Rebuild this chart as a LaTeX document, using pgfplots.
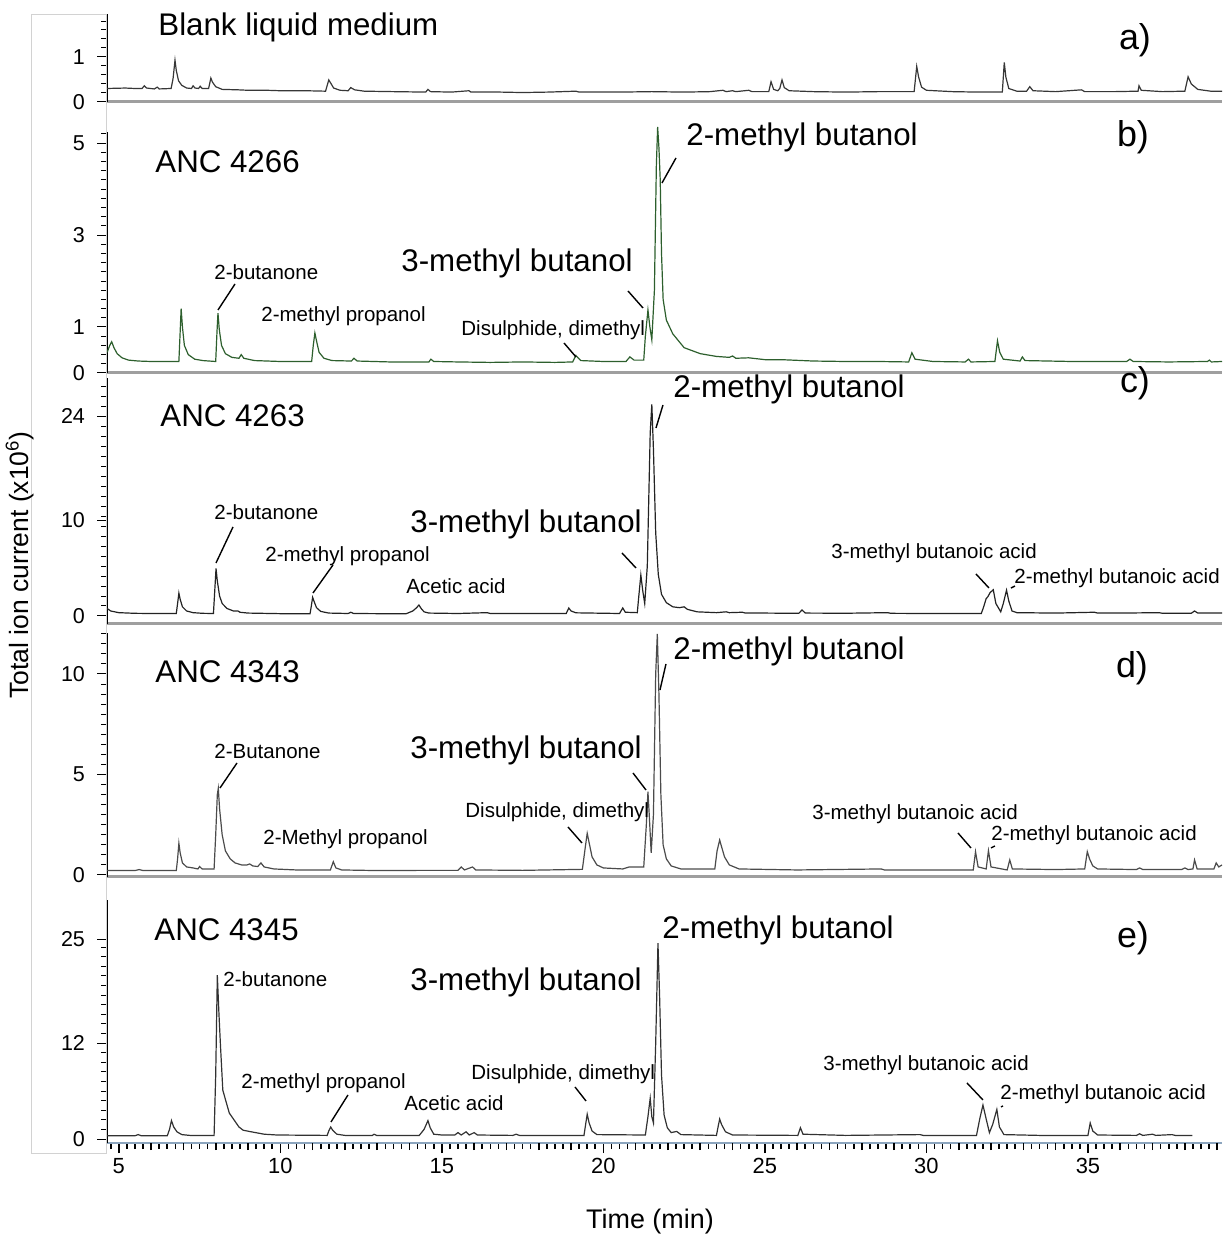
\documentclass[border=0pt]{standalone}
\usepackage{pgfplots}
\pgfplotsset{compat=1.18}
\usepackage{fontspec}
\setmainfont{Liberation Sans}
\definecolor{ca}{RGB}{55,55,55}
\definecolor{cb}{RGB}{45,95,45}
\definecolor{cc}{RGB}{35,35,35}
\definecolor{cd}{RGB}{75,75,75}
\definecolor{ce}{RGB}{50,50,50}
\definecolor{xblue}{RGB}{140,165,190}
\pgfplotsset{
  chrom/.style={
    scale only axis, width=557.5bp, anchor=south west,
    xmin=4.635, xmax=39.15, clip=false,
    axis x line*=bottom, axis y line*=left,
    x axis line style={gray!75, line width=1.5bp},
    y axis line style={black, line width=0.6bp},
    xtick=\empty,
    tick align=outside, major tick length=5bp, minor tick length=3bp,
    tick style={black, line width=0.5bp},
    /pgf/number format/assume math mode=true,
    ticklabel style={font=\fontsize{10.8}{13}\selectfont},
    yticklabel style={xshift=-2.5bp},
  },
}
\newcommand{\fbig}{\fontsize{15.7}{18}\selectfont}
\newcommand{\fsm}{\fontsize{10.3}{12}\selectfont}
\newcommand{\flet}{\fontsize{18}{20}\selectfont}
\begin{document}
\begin{tikzpicture}
\path[use as bounding box] (0bp,0bp) rectangle (611.5bp,617bp);
% a
\begin{axis}[chrom, at={(53.5bp,566bp)}, height=44bp, ymin=0, ymax=1.956,
  ytick={0,1}, minor ytick={0.2,0.4,...,1.8}]
\addplot[ca, line width=0.6bp, mark=none] coordinates {
(4.64,0.30) (5.2,0.31) (5.5,0.30) (5.72,0.30) (5.79,0.36) (5.86,0.31) (6.1,0.29) (6.19,0.33) (6.25,0.29)
(6.62,0.30) (6.68,0.52) (6.74,0.93) (6.78,0.70) (6.85,0.47) (6.95,0.37) (7.1,0.31) (7.25,0.30)
(7.30,0.36) (7.36,0.31) (7.47,0.30) (7.52,0.35) (7.58,0.30) (7.78,0.30) (7.85,0.53) (7.9,0.44)
(8.0,0.34) (8.2,0.28) (8.7,0.27) (9.0,0.26) (9.6,0.26) (10.0,0.25) (10.8,0.25) (11.4,0.24) (11.5,0.49) (11.56,0.42)
(11.65,0.31) (11.85,0.26) (12.1,0.25) (12.18,0.32) (12.3,0.27) (12.6,0.24) (13.5,0.23) (14.5,0.22)
(14.57,0.28) (14.65,0.23) (15.3,0.22) (15.84,0.25) (15.9,0.22) (16.8,0.22) (17.5,0.21) (18.3,0.22) (19.15,0.24) (19.25,0.22)
(20.5,0.22) (21.5,0.23) (22.5,0.22) (23.3,0.23) (23.7,0.26) (23.8,0.23) (24.0,0.25) (24.1,0.23) (24.5,0.26) (24.6,0.23)
(25.12,0.23) (25.19,0.45) (25.27,0.28) (25.4,0.25) (25.46,0.3) (25.53,0.49) (25.6,0.32) (25.75,0.25)
(26.5,0.23) (27.5,0.22) (28.5,0.23) (29.62,0.23) (29.7,0.79) (29.76,0.55) (29.85,0.33) (30.0,0.26)
(30.8,0.23) (31.6,0.22) (32.35,0.22) (32.41,0.88) (32.46,0.55) (32.55,0.30) (32.8,0.24) (33.1,0.24)
(33.2,0.34) (33.3,0.25) (34.0,0.23) (34.8,0.27) (34.9,0.23) (35.8,0.23) (36.55,0.24) (36.58,0.36) (36.65,0.26)
(37.3,0.23) (38.0,0.24) (38.1,0.56) (38.2,0.40) (38.4,0.28) (38.8,0.24) (39.15,0.24)
};
\end{axis}
% b
\begin{axis}[chrom, at={(53.5bp,430.5bp)}, height=120.5bp, ymin=0, ymax=5.24,
  ytick={0,1,3,5}, minor ytick={0.2,0.4,...,5.2}]
\addplot[cb, line width=0.6bp, mark=none] coordinates {
(4.64,0.45) (4.72,0.60) (4.78,0.68) (4.85,0.55) (4.95,0.42) (5.1,0.33) (5.3,0.28) (5.6,0.26)
(6.0,0.25) (6.5,0.25) (6.86,0.25) (6.9,0.9) (6.93,1.40) (6.97,1.0) (7.03,0.6) (7.15,0.40) (7.35,0.30)
(7.6,0.27) (8.0,0.25) (8.04,0.9) (8.07,1.30) (8.11,0.95) (8.18,0.6) (8.3,0.42) (8.5,0.34)
(8.72,0.32) (8.79,0.40) (8.87,0.32) (9.2,0.27) (10.0,0.25) (10.97,0.25) (11.02,0.6) (11.07,0.87)
(11.12,0.7) (11.2,0.45) (11.35,0.32) (11.6,0.27) (12.2,0.26) (12.28,0.32) (12.38,0.26) (13.4,0.24)
(14.6,0.24) (14.66,0.30) (14.75,0.25) (15.5,0.24) (16.5,0.23) (17.5,0.24) (18.5,0.23) (19.05,0.24) (19.15,0.38)
(19.3,0.27) (20.0,0.25) (20.7,0.25) (20.82,0.35) (20.95,0.28) (21.25,0.28) (21.3,0.8) (21.38,1.37)
(21.44,1.0) (21.5,0.72) (21.58,1.8) (21.64,4.5) (21.68,5.35) (21.72,4.9) (21.76,4.2) (21.8,2.6)
(21.85,1.6) (21.95,1.15) (22.15,0.85) (22.5,0.55) (23.0,0.42) (23.5,0.36) (23.9,0.34) (24.0,0.37)
(24.1,0.32) (24.5,0.33) (25.0,0.29) (25.5,0.29) (26.5,0.26) (27.5,0.25) (28.5,0.25) (29.45,0.24)
(29.55,0.44) (29.65,0.30) (30.2,0.25) (31.2,0.24) (31.3,0.30) (31.38,0.24) (32.12,0.25) (32.2,0.70) (32.27,0.45)
(32.38,0.30) (32.9,0.26) (32.97,0.35) (33.05,0.27) (34.5,0.25) (36.2,0.25) (36.3,0.30) (36.4,0.25)
(37.5,0.24) (38.7,0.25) (38.76,0.28) (38.82,0.24) (39.15,0.25)
};
\end{axis}
% c
\begin{axis}[chrom, at={(53.5bp,305bp)}, height=123bp, ymin=-0.96, ymax=28.57,
  ytick={0,11.52,24}, yticklabels={0,10,24}, minor ytick={1.2,2.4,...,27.6}]
\addplot[cc, line width=0.6bp, mark=none] coordinates {
(4.64,0.9) (4.75,0.6) (5.0,0.4) (5.5,0.32) (6.0,0.3) (6.78,0.3) (6.82,1.5) (6.86,2.75) (6.9,2.0)
(6.97,1.1) (7.1,0.6) (7.3,0.4) (7.6,0.32) (7.93,0.3) (7.97,3.0) (8.01,5.7) (8.05,4.2) (8.12,2.4)
(8.2,1.5) (8.35,0.9) (8.55,0.6) (8.69,0.6) (8.75,0.45) (9.0,0.35) (10.0,0.28) (10.92,0.28) (10.96,1.2)
(11.0,2.24) (11.05,1.7) (11.12,1.0) (11.25,0.55) (11.5,0.35) (12.1,0.3) (12.18,0.45) (12.27,0.3)
(13.0,0.28) (13.9,0.28) (14.1,0.6) (14.22,1.0) (14.29,1.32) (14.36,0.9) (14.45,0.5) (14.6,0.35)
(15.5,0.3) (16.4,0.4) (16.5,0.3) (17.5,0.3) (18.85,0.3) (18.93,0.96) (19.0,0.6) (19.15,0.38) (20.5,0.3) (20.6,0.96)
(20.68,0.45) (21.05,0.4) (21.1,2.5) (21.16,4.92) (21.22,3.0) (21.28,1.5) (21.36,6) (21.45,22)
(21.5,25.4) (21.55,20) (21.62,10) (21.7,5) (21.8,2.6) (21.95,1.6) (22.15,1.1) (22.35,1.0) (22.5,1.1)
(22.6,0.8) (22.9,0.5) (23.5,0.4) (23.8,0.5) (23.9,0.4) (24.3,0.45) (24.4,0.35) (25.0,0.35) (26.05,0.32)
(26.15,0.72) (26.25,0.35) (27.5,0.33) (28.8,0.4) (28.9,0.32) (30.0,0.3) (31.7,0.3) (31.78,1.2) (31.85,2.1) (31.9,2.3)
(31.97,2.8) (32.07,3.15) (32.15,1.5) (32.3,0.5) (32.38,1.5) (32.48,3.1) (32.55,1.8) (32.65,0.6)
(32.8,0.4) (34.0,0.35) (35.2,0.45) (35.3,0.35) (36.0,0.35) (37.2,0.4) (37.3,0.33) (38.2,0.33) (38.3,0.6) (38.4,0.35) (39.15,0.35)
};
\end{axis}
% d
\begin{axis}[chrom, at={(53.5bp,178.5bp)}, height=122bp, ymin=-0.1, ymax=12.04,
  ytick={0,5,10}, minor ytick={0.5,1,...,12}]
\addplot[cd, line width=0.6bp, mark=none] coordinates {
(4.64,0.22) (5.5,0.22) (5.63,0.27) (5.75,0.22) (6.78,0.22) (6.82,0.8) (6.86,1.58) (6.9,1.1)
(6.97,0.6) (7.1,0.4) (7.3,0.35) (7.45,0.3) (7.5,0.42) (7.58,0.3) (7.95,0.3) (8.0,2.0) (8.05,4.0)
(8.08,4.31) (8.12,3.3) (8.2,2.0) (8.3,1.2) (8.45,0.8) (8.6,0.6) (8.8,0.5) (8.97,0.5) (9.05,0.55)
(9.15,0.45) (9.3,0.42) (9.4,0.6) (9.5,0.4) (9.8,0.3) (10.5,0.25) (11.55,0.25) (11.64,0.66)
(11.72,0.35) (11.9,0.25) (13.0,0.22) (14.5,0.23) (15.5,0.23) (15.6,0.4) (15.7,0.25) (15.95,0.4) (16.05,0.25)
(17.5,0.23) (19.35,0.28) (19.45,1.5) (19.5,2.07) (19.56,1.6) (19.65,0.9) (19.8,0.5) (20.0,0.35)
(20.6,0.3) (20.8,0.4) (21.25,0.4) (21.33,2.5) (21.38,4.14) (21.42,3.0) (21.48,1.1) (21.55,3)
(21.62,10) (21.67,12.0) (21.72,9) (21.78,4) (21.85,1.5) (21.95,0.8) (22.1,0.45) (22.4,0.3)
(23.45,0.3) (23.52,1.2) (23.6,1.74) (23.66,1.4) (23.75,0.9) (23.9,0.5) (24.2,0.3) (26.0,0.25)
(28.6,0.3) (28.7,0.25) (30.5,0.25) (31.45,0.25) (31.52,1.16) (31.6,0.4) (31.85,0.3) (31.92,1.21) (32.0,0.4)
(32.5,0.25) (32.58,0.75) (32.66,0.3) (34.0,0.27) (34.9,0.3) (34.98,1.16) (35.05,0.8) (35.15,0.45)
(35.3,0.3) (36.5,0.27) (36.6,0.35) (36.7,0.27) (37.9,0.27) (38.0,0.35) (38.1,0.27) (38.25,0.3) (38.3,0.75) (38.38,0.3) (38.9,0.3)
(38.97,0.6) (39.05,0.4) (39.15,0.5)
};
\end{axis}
% e
\begin{axis}[chrom, at={(53.5bp,45.5bp)}, height=121.5bp, ymin=-0.5, ymax=29.9,
  ytick={0,12,25}, minor ytick={1.2,2.4,...,24},
  x axis line style={xblue, line width=1bp},
  xtick={5,10,...,35}, minor xtick={4.75,5,...,39},
  extra x ticks={6,7,8,9,11,12,13,14,16,17,18,19,21,22,23,24,26,27,28,29,31,32,33,34,36,37,38,39},
  extra x tick labels={},
  extra x tick style={major tick length=3.5bp, tick style={black, line width=0.8bp}},
  xtick style={black, line width=0.8bp},
  xticklabel style={font=\fontsize{11}{13}\selectfont, yshift=1bp}]
\addplot[ce, line width=0.6bp, mark=none] coordinates {
(4.64,0.4) (5.5,0.4) (5.6,0.55) (5.7,0.4) (6.5,0.4) (6.57,1.2) (6.63,2.3) (6.7,1.5) (6.8,0.9)
(6.95,0.55) (7.2,0.45) (7.95,0.45) (8.0,8) (8.05,20.5) (8.1,15.7) (8.15,11.5) (8.22,6.1)
(8.42,3.25) (8.72,1.5) (8.85,1.1) (9.1,0.9) (9.5,0.6) (9.9,0.5) (11.45,0.45) (11.5,1.0) (11.56,1.5)
(11.62,1.1) (11.75,0.6) (12.0,0.45) (12.85,0.45) (12.9,0.6) (12.98,0.45) (14.3,0.45) (14.45,1.2)
(14.57,2.3) (14.64,1.4) (14.75,0.6) (15.0,0.5) (15.4,0.5) (15.5,0.8) (15.6,0.5) (15.75,0.9) (15.85,0.5)
(16.0,0.8) (16.1,0.5) (17.2,0.45) (17.3,0.6) (17.4,0.45) (19.4,0.45) (19.45,1.8) (19.5,3.1)
(19.56,2.0) (19.65,1.0) (19.8,0.55) (21.3,0.5) (21.38,2.8) (21.45,5.1) (21.5,2.8) (21.55,2.0)
(21.62,12) (21.69,24.5) (21.74,18) (21.8,8) (21.88,3) (21.98,1.4) (22.1,0.8) (22.27,0.95)
(22.4,0.55) (23.5,0.45) (23.55,1.5) (23.6,2.5) (23.66,1.8) (23.78,0.9) (24.0,0.5) (26.02,0.45)
(26.1,1.4) (26.18,0.6) (27.5,0.45) (29.8,0.55) (29.9,0.45) (31.55,0.45) (31.65,2.5) (31.75,4.25) (31.85,2.5)
(31.95,0.8) (32.05,1.8) (32.18,3.7) (32.26,1.5) (32.4,0.55) (33.5,0.45) (35.0,0.45) (35.07,2.0)
(35.15,1.0) (35.3,0.5) (36.5,0.45) (36.6,0.65) (36.7,0.45) (37.0,0.6) (37.1,0.45) (37.6,0.55) (37.7,0.45) (38.23,0.45)
};
\end{axis}
% annotations in pixel coordinates
\begin{scope}[x=0.5bp,y=-0.5bp,shift={(0bp,617bp)}]
\draw[gray!35, line width=0.5bp] (32,15) rectangle (107,1154);
\tikzset{every node/.style={inner sep=0pt, anchor=west}}
% axis labels
\node[rotate=90, anchor=center, font=\fontsize{13.3}{15}\selectfont] at (20,565) {Total ion current (x10\textsuperscript{6})};
\node[anchor=center, font=\fontsize{13.5}{15}\selectfont] at (650,1222) {Time (min)};
% a
\node[font=\fbig] at (158,27) {Blank liquid medium};
\node[font=\flet, anchor=center] at (1135,40) {a)};
% b
\node[font=\fbig] at (155,162) {ANC 4266};
\node[font=\flet, anchor=center] at (1133,137) {b)};
\node[font=\fbig] at (686,137) {2-methyl butanol};
\draw[line width=0.7bp] (676,158) -- (662,183);
\node[font=\fbig] at (401,263) {3-methyl butanol};
\draw[line width=0.7bp] (628,291) -- (643,308);
\node[font=\fsm] at (214,272) {2-butanone};
\draw[line width=0.7bp] (235,284) -- (218,310);
\node[font=\fsm] at (261,316) {2-methyl propanol};
\node[font=\fsm] at (461,330) {Disulphide, dimethyl};
\draw[line width=0.7bp] (564,343) -- (576,357);
% c
\node[font=\fbig] at (160,416) {ANC 4263};
\node[font=\flet, anchor=center] at (1135,383) {c)};
\node[font=\fbig] at (673,389) {2-methyl butanol};
\draw[line width=0.7bp] (663,405) -- (656,428);
\node[font=\fbig] at (410,524) {3-methyl butanol};
\draw[line width=0.7bp] (622,553) -- (636,568);
\node[font=\fsm] at (214,512) {2-butanone};
\draw[line width=0.7bp] (233,527) -- (216,563);
\node[font=\fsm] at (265,556) {2-methyl propanol};
\draw[line width=0.7bp] (333,565) -- (313,593);
\node[font=\fsm] at (406,586) {Acetic acid};
\node[font=\fsm] at (831,553) {3-methyl butanoic acid};
\draw[line width=0.7bp] (976,574) -- (989,588);
\node[font=\fsm] at (1014,578) {2-methyl butanoic acid};
\draw[line width=0.7bp] (1011,588) -- (1015,586);
% d
\node[font=\fbig] at (155,672) {ANC 4343};
\node[font=\flet, anchor=center] at (1132,668) {d)};
\node[font=\fbig] at (673,651) {2-methyl butanol};
\draw[line width=0.7bp] (666,664) -- (660,690);
\node[font=\fbig] at (410,750) {3-methyl butanol};
\draw[line width=0.7bp] (633,773) -- (646,790);
\node[font=\fsm] at (214,751) {2-Butanone};
\draw[line width=0.7bp] (237,763) -- (220,788);
\node[font=\fsm] at (263,839) {2-Methyl propanol};
\node[font=\fsm] at (465,812) {Disulphide, dimethyl};
\draw[line width=0.7bp] (568,827) -- (582,843);
\node[font=\fsm] at (812,814) {3-methyl butanoic acid};
\draw[line width=0.7bp] (958,833) -- (971,848);
\node[font=\fsm] at (991,835) {2-methyl butanoic acid};
\draw[line width=0.7bp] (991,848) -- (995,846);
% e
\node[font=\fbig] at (154,930) {ANC 4345};
\node[font=\flet, anchor=center] at (1133,938) {e)};
\node[font=\fbig] at (662,930) {2-methyl butanol};
\node[font=\fbig] at (410,982) {3-methyl butanol};
\node[font=\fsm] at (223,979) {2-butanone};
\node[font=\fsm] at (241,1083) {2-methyl propanol};
\draw[line width=0.7bp] (348,1095) -- (331,1122);
\node[font=\fsm] at (404,1103) {Acetic acid};
\node[font=\fsm] at (471,1074) {Disulphide, dimethyl};
\draw[line width=0.7bp] (575,1087) -- (586,1101);
\node[font=\fsm] at (823,1065) {3-methyl butanoic acid};
\draw[line width=0.7bp] (967,1083) -- (983,1100);
\node[font=\fsm] at (1000,1094) {2-methyl butanoic acid};
\draw[line width=0.7bp] (1001,1107) -- (1003,1106);
\end{scope}
\end{tikzpicture}
\end{document}
